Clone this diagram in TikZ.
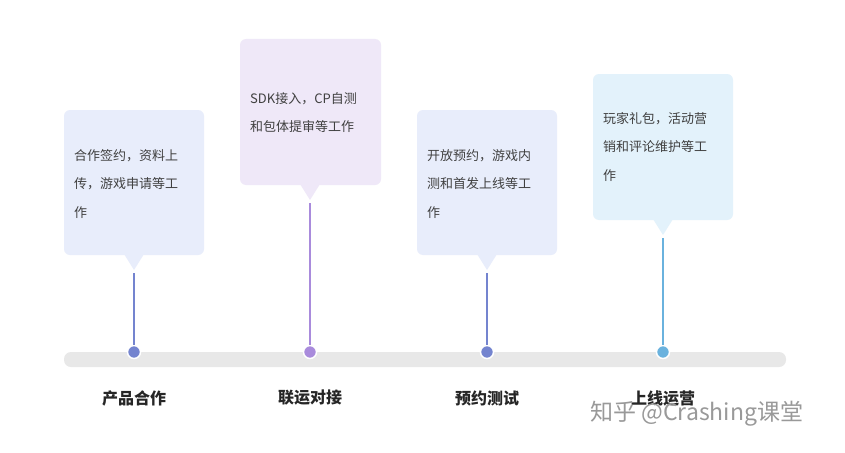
\documentclass[tikz,border=0pt]{standalone}
\usepackage{fontspec}
\setmainfont{Noto Sans CJK SC}
\begin{document}
\begin{tikzpicture}[x=1pt,y=-1pt,
  box/.style={rounded corners=6pt,draw=none},
  txt/.style={anchor=north west,align=left,text=black!75,font=\fontsize{13}{28.5}\selectfont,inner sep=0pt},
  lab/.style={font=\fontsize{16}{18}\selectfont\bfseries,text=black!85},
  dot/.style={circle,draw=white,line width=1.5pt,minimum size=13pt,inner sep=0pt}]
\definecolor{bA}{HTML}{E8EDFB}\definecolor{bB}{HTML}{EFE8F8}\definecolor{bD}{HTML}{E3F2FB}
\definecolor{lA}{HTML}{7484CF}\definecolor{lB}{HTML}{A98BDC}\definecolor{lD}{HTML}{6AB2DE}
\useasboundingbox (0,0) rectangle (845,452);
\fill[white] (0,0) rectangle (845,452);
\fill[black!9,rounded corners=7pt] (64,352) rectangle (786,367);
% boxes
\fill[bA,box] (64,110) rectangle (204,255); \fill[bA] (124,254)--(144,254)--(134,270)--cycle;
\fill[bB,box] (240,39) rectangle (381,185); \fill[bB] (300,184)--(320,184)--(310,200)--cycle;
\fill[bA,box] (417,110) rectangle (557,255); \fill[bA] (477,254)--(497,254)--(487,270)--cycle;
\fill[bD,box] (593,74) rectangle (733,220); \fill[bD] (653,219)--(673,219)--(663,235)--cycle;
\node[txt] (t1) at (74,149) {合作签约，资料上\\传，游戏申请等工\\作};
\node[txt] (t2) at (250,92) {SDK接入，CP自测\\和包体提审等工作};
\node[txt] (t3) at (427,149) {开放预约，游戏内\\测和首发上线等工\\作};
\node[txt] (t4) at (603,112) {玩家礼包，活动营\\销和评论维护等工\\作};
% dots and lines
\coordinate (p1) at (134,273); \coordinate (p2) at (310,203);
\coordinate (p3) at (487,273); \coordinate (p4) at (663,238);
\node[dot,fill=lA] (d1) at (134,352) {};
\node[dot,fill=lB] (d2) at (310,352) {};
\node[dot,fill=lA] (d3) at (487,352) {};
\node[dot,fill=lD] (d4) at (663,352) {};
\draw[lA,line width=2pt] (p1)--(d1); \draw[lB,line width=2pt] (p2)--(d2);
\draw[lA,line width=2pt] (p3)--(d3); \draw[lD,line width=2pt] (p4)--(d4);
\node[lab] (l1) at (134,398) {产品合作};
\node[lab] (l2) at (310,398) {联运对接};
\node[lab] (l3) at (487,398) {预约测试};
\node[lab] (l4) at (663,398) {上线运营};
\node[text=black!40,font=\fontsize{23}{25}\selectfont,anchor=west,inner sep=0pt] (wm) at (590,414) {知乎 @Crashing课堂};
\end{tikzpicture}
\end{document}
